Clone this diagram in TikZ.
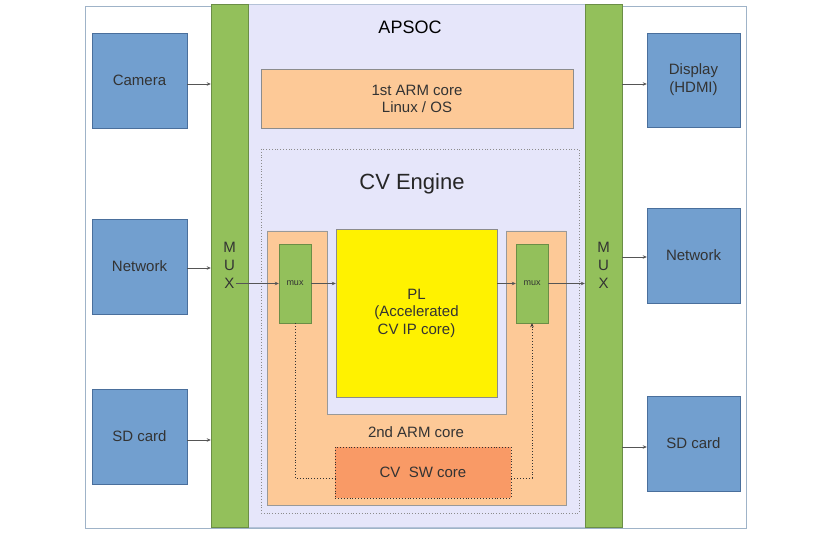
\documentclass[tikz,border=0pt]{standalone}
\usepackage{fontspec}
\setmainfont{Liberation Sans}
\usetikzlibrary{arrows.meta,calc}
\definecolor{blueF}{HTML}{729FCF}
\definecolor{blueD}{HTML}{4A6F9C}
\definecolor{greenF}{HTML}{93C05B}
\definecolor{greenD}{HTML}{6B8E46}
\definecolor{lavF}{HTML}{E6E6FA}
\definecolor{peachF}{HTML}{FDC997}
\definecolor{orangeF}{HTML}{F99A66}
\definecolor{frameC}{HTML}{9FB3C8}
\definecolor{txt}{HTML}{333333}
\definecolor{lineC}{HTML}{555555}
\tikzset{
  blk/.style={draw=blueD, fill=blueF, inner sep=0pt, minimum width=95pt, minimum height=95pt, text=txt, align=center, font=\fontsize{15}{18}\selectfont},
  greenbox/.style={draw=greenD, fill=greenF, inner sep=0pt},
  conn/.style={draw=lineC, line width=0.8pt, -{Stealth[length=4pt,width=3.5pt]}},
  dotconn/.style={draw=black!80, line width=0.9pt, dotted},
  lbl/.style={text=txt, align=center, inner sep=0pt}
}
\begin{document}
\begin{tikzpicture}[x=1pt,y=-1pt]
\useasboundingbox (0,0) rectangle (825,545);
% outer frame
\draw[frameC, line width=0.8pt, fill=white] (85,6) rectangle (746,528);
% APSOC region
\draw[frameC!70!lavF, fill=lavF] (248,4) rectangle (585,527);
\node[lbl, text=black, font=\fontsize{18}{21}\selectfont] (apsoc) at (410,27) {APSOC};
% MUX bars
\node[greenbox, minimum width=37pt, minimum height=523pt] (lbar) at (229.5,265.5) {};
\node[greenbox, minimum width=37pt, minimum height=523pt] (rbar) at (603.5,265.5) {};
\node[lbl, font=\fontsize{15}{18}\selectfont] (lmuxt) at (229.5,265) {M\\U\\X};
\node[lbl, font=\fontsize{15}{18}\selectfont] (rmuxt) at (603.5,265) {M\\U\\X};
% peripheral blocks
\node[blk] (cam) at (139.5,80.5) {Camera};
\node[blk] (netl) at (139.5,266.5) {Network};
\node[blk] (sdl) at (139.5,436.5) {SD card};
\node[blk, minimum width=93pt, minimum height=94pt] (disp) at (693.5,80) {Display\\(HDMI)};
\node[blk, minimum width=93pt, minimum height=95pt] (netr) at (693.5,255.5) {Network};
\node[blk, minimum width=93pt, minimum height=95pt] (sdr) at (693.5,443.5) {SD card};
% 1st ARM core
\node[draw=black!45, fill=peachF, minimum width=312pt, minimum height=59pt, inner sep=0pt, lbl, font=\fontsize{15}{17}\selectfont] (arm1) at (417,98.5) {1st ARM core\\Linux / OS};
% CV engine dotted box
\draw[black!45, dotted, line width=0.8pt] (261,149) rectangle (579,513);
\node[lbl, text=black!85, font=\fontsize{22}{26}\selectfont] (cve) at (412,184) {CV Engine};
% 2nd ARM core U shape
\draw[black!40, fill=peachF] (267,231) -- (327,231) -- (327,414) -- (506,414) -- (506,231) -- (566,231) -- (566,505) -- (267,505) -- cycle;
\node[lbl, font=\fontsize{15}{18}\selectfont] (arm2) at (416,432) {2nd ARM core};
% PL
\node[draw=black!45, fill=yellow, minimum width=161pt, minimum height=168pt, inner sep=0pt, lbl, font=\fontsize{15}{17.5}\selectfont] (pl) at (416.5,313) {PL\\(Accelerated\\CV IP core)};
% small muxes
\node[greenbox, minimum width=32pt, minimum height=79pt, text=txt, font=\fontsize{9}{10}\selectfont] (lmux) at (295,283.5) {mux};
\node[greenbox, minimum width=32pt, minimum height=79pt, text=txt, font=\fontsize{9}{10}\selectfont] (rmux) at (532,283.5) {mux};
% CV SW core
\node[draw=black!80, dotted, line width=0.9pt, fill=orangeF, minimum width=176pt, minimum height=51pt, inner sep=0pt, lbl, font=\fontsize{15}{18}\selectfont] (sw) at (423,472.5) {CV\ \ SW core};
% connectors periphery
\draw[conn] (cam.east |- 0,84) -- (lbar.west |- 0,84);
\draw[conn] (netl.east |- 0,268) -- (lbar.west |- 0,268);
\draw[conn] (sdl.east |- 0,440) -- (lbar.west |- 0,440);
\draw[conn] (rbar.east |- 0,84) -- (disp.west |- 0,84);
\draw[conn] (rbar.east |- 0,257) -- (netr.west |- 0,257);
\draw[conn] (rbar.east |- 0,447) -- (sdr.west |- 0,447);
% inner connectors
\draw[conn] (lmuxt.east |- lmux.west) -- (lmux.west);
\draw[conn] (lmux.east) -- (lmux.east -| pl.west);
\draw[conn] (pl.east |- rmux.west) -- (rmux.west);
\draw[conn] (rmux.east) -- (rmux.east -| rbar.west);
% dotted SW links
\coordinate (swl) at ($(sw.west)+(0,5.5)$);
\coordinate (swr) at ($(sw.east)+(0,5.5)$);
\draw[dotconn] (lmux.south) |- (swl);
\draw[dotconn, -{Stealth[length=4pt,width=3.5pt]}] (swr) -| (rmux.south);
\end{tikzpicture}
\end{document}
